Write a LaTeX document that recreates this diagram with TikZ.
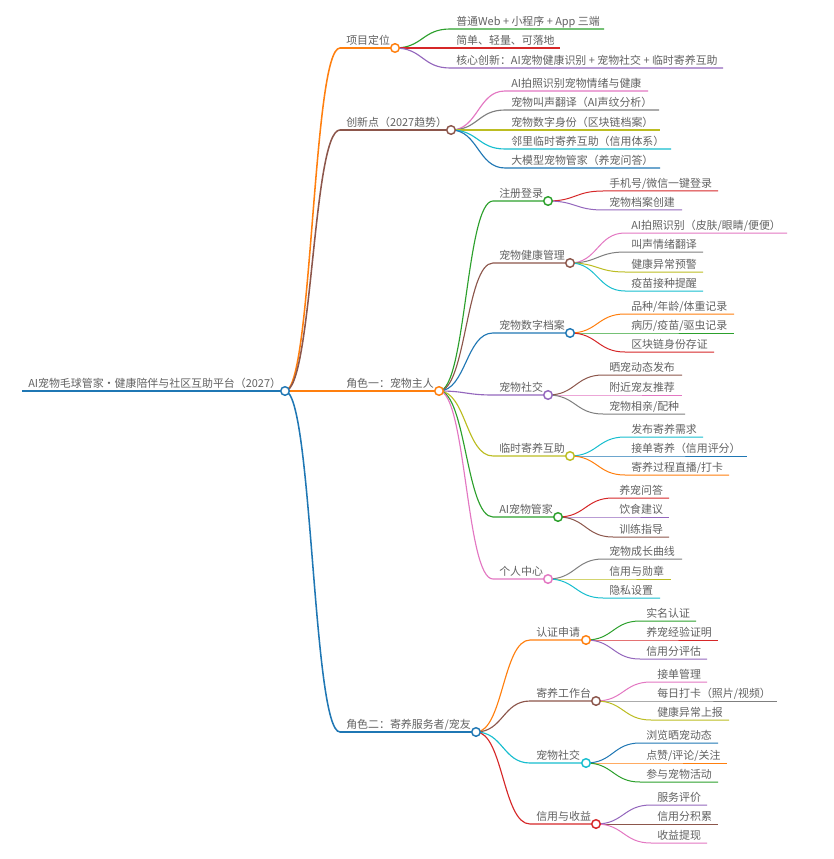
\documentclass[tikz,border=0pt]{standalone}
\usepackage{fontspec}
\setmainfont{Noto Sans CJK SC}
\usetikzlibrary{calc}
\definecolor{cBlue}{HTML}{1F77B4}
\definecolor{cOrange}{HTML}{FF7F0E}
\definecolor{cGreen}{HTML}{2CA02C}
\definecolor{cRed}{HTML}{D62728}
\definecolor{cPurple}{HTML}{9467BD}
\definecolor{cBrown}{HTML}{8C564B}
\definecolor{cPink}{HTML}{E377C2}
\definecolor{cGray}{HTML}{7F7F7F}
\definecolor{cOlive}{HTML}{BCBD22}
\definecolor{cCyan}{HTML}{17BECF}
\definecolor{txtgray}{HTML}{626262}
\tikzset{
  lbl/.style={text=txtgray, font=\fontsize{8.2}{10}\selectfont, inner sep=0pt, anchor=base west},
  dot/.style={circle, draw=#1, fill=white, line width=1.1pt, minimum size=6.4pt, inner sep=0pt},
}
\newcommand\mmitem[9]{%
  \pgfmathsetmacro\mmdx{(#6-#3)/2}%
  \coordinate (#1s) at (#6,#7);
  \coordinate (#1) at (#8,#7);
  \draw[#4, line width=#5] (#2) .. controls +(\mmdx,0) and +(-\mmdx,0) .. (#1s) -- (#1);
  \node[lbl] (#1t) at ($(#1s)+(6,-3.5)$) {#9};
}
\begin{document}
\begin{tikzpicture}[x=0.75pt,y=-0.75pt]
\useasboundingbox[fill=white] (0,0) rectangle (833,859);
% root
\coordinate (r0) at (22,391);
\coordinate (root) at (285,391);
\draw[cBlue, line width=1.6pt] (r0) -- (root);
\node[lbl] (roott) at (28,387.5) {AI宠物毛球管家・健康陪伴与社区互助平台（2027）};
% level 1
\mmitem{p1}{root}{285}{cOrange}{1.15pt}{340}{48}{395}{项目定位}
\mmitem{p2}{root}{285}{cBrown}{1.15pt}{340}{130}{451}{创新点（2027趋势）}
\mmitem{p3}{root}{285}{cOrange}{1.15pt}{340}{391}{439}{角色一：宠物主人}
\mmitem{p4}{root}{285}{cBlue}{1.15pt}{340}{732}{476}{角色二：寄养服务者/宠友}
% project positioning
\mmitem{a1}{p1}{395}{cGreen}{0.85pt}{450}{29}{604}{普通Web + 小程序 + App 三端}
\mmitem{a2}{p1}{395}{cRed}{0.85pt}{450}{48}{560}{简单、轻量、可落地}
\mmitem{a3}{p1}{395}{cPurple}{0.85pt}{450}{68}{723}{核心创新：AI宠物健康识别 + 宠物社交 + 临时寄养互助}
% innovation
\mmitem{b1}{p2}{451}{cPink}{0.85pt}{505}{91}{648}{AI拍照识别宠物情绪与健康}
\mmitem{b2}{p2}{451}{cGray}{0.85pt}{505}{110}{659}{宠物叫声翻译（AI声纹分析）}
\mmitem{b3}{p2}{451}{cOlive}{0.85pt}{505}{130}{660}{宠物数字身份（区块链档案）}
\mmitem{b4}{p2}{451}{cCyan}{0.85pt}{505}{149}{671}{邻里临时寄养互助（信用体系）}
\mmitem{b5}{p2}{451}{cBlue}{0.85pt}{505}{168}{660}{大模型宠物管家（养宠问答）}
% role one
\mmitem{c1}{p3}{439}{cGreen}{0.85pt}{493}{201}{548}{注册登录}
\mmitem{c2}{p3}{439}{cBrown}{0.85pt}{493}{263}{570}{宠物健康管理}
\mmitem{c3}{p3}{439}{cBlue}{0.85pt}{493}{333}{570}{宠物数字档案}
\mmitem{c4}{p3}{439}{cPurple}{0.85pt}{493}{395}{548}{宠物社交}
\mmitem{c5}{p3}{439}{cOlive}{0.85pt}{493}{456}{570}{临时寄养互助}
\mmitem{c6}{p3}{439}{cGreen}{0.85pt}{493}{517}{558}{AI宠物管家}
\mmitem{c7}{p3}{439}{cPink}{0.85pt}{493}{579}{548}{个人中心}
% c1
\mmitem{c1a}{c1}{548}{cRed}{0.75pt}{603}{191}{718}{手机号/微信一键登录}
\mmitem{c1b}{c1}{548}{cPurple}{0.75pt}{603}{210}{682}{宠物档案创建}
% c2
\mmitem{c2a}{c2}{570}{cPink}{0.75pt}{625}{233}{787}{AI拍照识别（皮肤/眼睛/便便）}
\mmitem{c2b}{c2}{570}{cGray}{0.75pt}{625}{252}{703}{叫声情绪翻译}
\mmitem{c2c}{c2}{570}{cOlive}{0.75pt}{625}{272}{703}{健康异常预警}
\mmitem{c2d}{c2}{570}{cCyan}{0.75pt}{625}{291}{703}{疫苗接种提醒}
% c3
\mmitem{c3a}{c3}{570}{cOrange}{0.75pt}{625}{314}{734}{品种/年龄/体重记录}
\mmitem{c3b}{c3}{570}{cGreen}{0.75pt}{625}{333}{734}{病历/疫苗/驱虫记录}
\mmitem{c3c}{c3}{570}{cRed}{0.75pt}{625}{352}{714}{区块链身份存证}
% c4
\mmitem{c4a}{c4}{548}{cBrown}{0.75pt}{603}{375}{682}{晒宠动态发布}
\mmitem{c4b}{c4}{548}{cPink}{0.75pt}{603}{395}{682}{附近宠友推荐}
\mmitem{c4c}{c4}{548}{cGray}{0.75pt}{603}{414}{685}{宠物相亲/配种}
% c5
\mmitem{c5a}{c5}{570}{cCyan}{0.75pt}{625}{437}{703}{发布寄养需求}
\mmitem{c5b}{c5}{570}{cBlue}{0.75pt}{625}{456}{747}{接单寄养（信用评分）}
\mmitem{c5c}{c5}{570}{cOrange}{0.75pt}{625}{475}{729}{寄养过程直播/打卡}
% c6
\mmitem{c6a}{c6}{558}{cRed}{0.75pt}{613}{498}{669}{养宠问答}
\mmitem{c6b}{c6}{558}{cPurple}{0.75pt}{613}{517}{669}{饮食建议}
\mmitem{c6c}{c6}{558}{cBrown}{0.75pt}{613}{537}{669}{训练指导}
% c7
\mmitem{c7a}{c7}{548}{cGray}{0.75pt}{603}{559}{682}{宠物成长曲线}
\mmitem{c7b}{c7}{548}{cOlive}{0.75pt}{603}{579}{671}{信用与勋章}
\mmitem{c7c}{c7}{548}{cCyan}{0.75pt}{603}{598}{660}{隐私设置}
% role two
\mmitem{d1}{p4}{476}{cOrange}{0.85pt}{530}{640}{586}{认证申请}
\mmitem{d2}{p4}{476}{cBrown}{0.85pt}{530}{701}{596}{寄养工作台}
\mmitem{d3}{p4}{476}{cCyan}{0.85pt}{530}{763}{586}{宠物社交}
\mmitem{d4}{p4}{476}{cRed}{0.85pt}{530}{824}{596}{信用与收益}
% d1
\mmitem{d1a}{d1}{586}{cGreen}{0.75pt}{640}{621}{696}{实名认证}
\mmitem{d1b}{d1}{586}{cRed}{0.75pt}{640}{640}{718}{养宠经验证明}
\mmitem{d1c}{d1}{586}{cPurple}{0.75pt}{640}{659}{707}{信用分评估}
% d2
\mmitem{d2a}{d2}{596}{cPink}{0.75pt}{651}{682}{707}{接单管理}
\mmitem{d2b}{d2}{596}{cGray}{0.75pt}{651}{701}{777}{每日打卡（照片/视频）}
\mmitem{d2c}{d2}{596}{cOlive}{0.75pt}{651}{720}{729}{健康异常上报}
% d3
\mmitem{d3a}{d3}{586}{cBlue}{0.75pt}{640}{743}{718}{浏览晒宠动态}
\mmitem{d3b}{d3}{586}{cOrange}{0.75pt}{640}{763}{727}{点赞/评论/关注}
\mmitem{d3c}{d3}{586}{cGreen}{0.75pt}{640}{782}{718}{参与宠物活动}
% d4
\mmitem{d4a}{d4}{596}{cPurple}{0.75pt}{651}{805}{707}{服务评价}
\mmitem{d4b}{d4}{596}{cBrown}{0.75pt}{651}{824}{718}{信用分积累}
\mmitem{d4c}{d4}{596}{cPink}{0.75pt}{651}{843}{707}{收益提现}
% circles
\foreach \n/\c in {root/cBlue, p1/cOrange, p2/cBrown, p3/cOrange, p4/cBlue,
  c1/cGreen, c2/cBrown, c3/cBlue, c4/cPurple, c5/cOlive, c6/cGreen, c7/cPink,
  d1/cOrange, d2/cBrown, d3/cCyan, d4/cRed}
  \node[dot=\c] at (\n) {};
\end{tikzpicture}
\end{document}
